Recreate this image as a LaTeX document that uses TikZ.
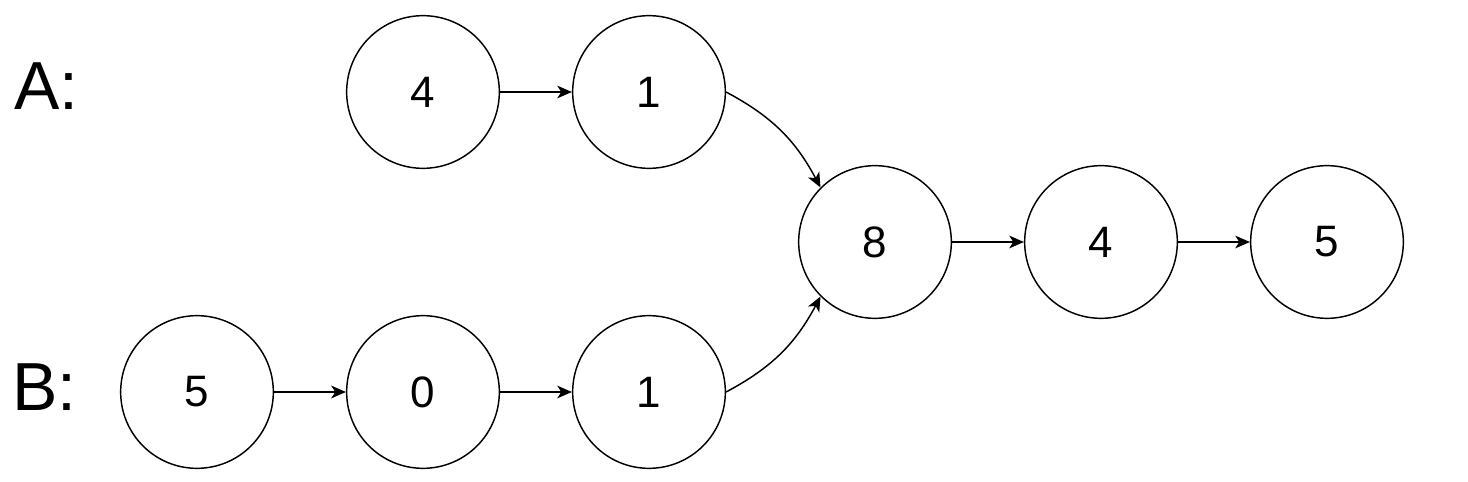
\documentclass[tikz,border=0pt]{standalone}
\usepackage{fontspec}
\setmainfont{Liberation Sans}
\usetikzlibrary{arrows.meta}
\tikzset{
  listnode/.style={circle, draw, line width=1.1pt, minimum size=114.5pt, inner sep=0pt,
    font=\fontsize{33}{40}\selectfont},
  listlink/.style={line width=1.1pt, -{Stealth[length=11pt,width=9.5pt,inset=3pt]}},
  rowlabel/.style={anchor=base west, inner sep=0pt, font=\fontsize{51}{60}\selectfont}
}
\begin{document}
\begin{tikzpicture}[x=0.75pt, y=0.75pt]
        \useasboundingbox (0,0) rectangle (1468,482);
        % row labels
        \node[rowlabel] (la) at (14,372) {A:};
        \node[rowlabel] (lb) at (12,71) {B:};
        % list A
        \node[listnode] (a4) at (423,390) {4};
        \node[listnode] (a1) at (649,390) {1};
        % list B
        \node[listnode] (b5) at (197,90) {5};
        \node[listnode] (b0) at (423,90) {0};
        \node[listnode] (b1) at (649,90) {1};
        % shared part
        \node[listnode] (c8) at (875,240) {8};
        \node[listnode] (c4) at (1101,240) {4};
        \node[listnode] (c5) at (1327,240) {5};
        \draw[listlink] (a4) -- (a1);
        \draw[listlink] (b5) -- (b0);
        \draw[listlink] (b0) -- (b1);
        \draw[listlink] (c8) -- (c4);
        \draw[listlink] (c4) -- (c5);
        \draw[listlink] (a1.east) to[out=-28, in=118] (c8.135);
        \draw[listlink] (b1.east) to[out=28, in=-118] (c8.225);
      \end{tikzpicture}
\end{document}
